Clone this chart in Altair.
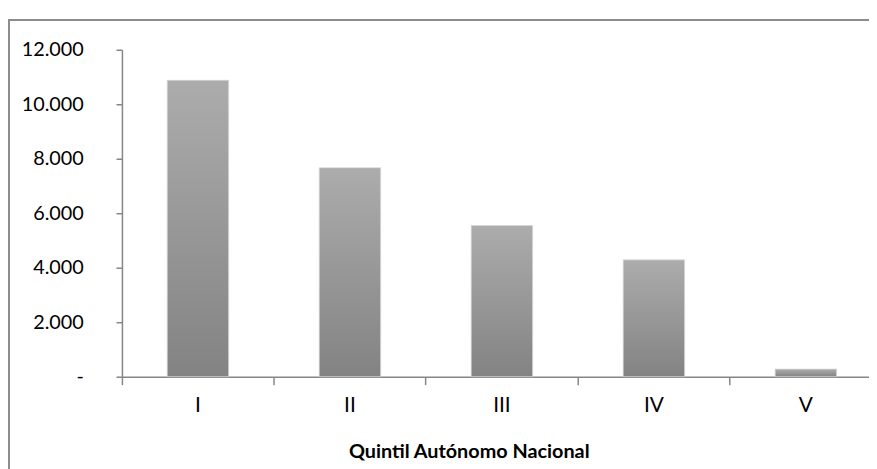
import altair as alt
import pandas as pd

categories = ["I", "II", "III", "IV", "V"]
values = [10880, 7670, 5550, 4290, 280]
x_title = "Quintil Autónomo Nacional"

df = pd.DataFrame({"quintil": categories, "valor": values})
FONT = "Lato"
GRAY = "#868686"

xscale = alt.Scale(domain=categories, range=[0, 767], paddingInner=0, paddingOuter=0)
yscale = alt.Scale(domain=[0, 12000], nice=False)

grad = alt.Gradient(
    gradient="linear", x1=0, y1=0, x2=0, y2=1,
    stops=[alt.GradientStop(color="#acacac", offset=0),
           alt.GradientStop(color="#838383", offset=1)],
)

bars = alt.Chart(df).mark_bar(
    color=grad, width=alt.RelativeBandSize(0.404),
    stroke="#d8d8d8", strokeWidth=1.2, strokeOpacity=0.6,
).encode(
    x=alt.X("quintil:N", sort=categories, scale=xscale,
            axis=alt.Axis(orient="bottom", title=x_title, labelAngle=0, ticks=False,
                          labelFont=FONT, labelFontSize=21, labelColor="#000",
                          labelPadding=18, labelBaseline="top",
                          domainColor=GRAY, domainWidth=1.5,
                          titleFont=FONT, titleFontSize=20, titleFontWeight="bold",
                          titleColor="#000", titleX=350, titleY=82,
                          titleAlign="center", titleBaseline="alphabetic")),
    y=alt.Y("valor:Q", scale=yscale,
            axis=alt.Axis(title=None, values=[0, 2000, 4000, 6000, 8000, 10000, 12000],
                          grid=False, tickSize=6, tickColor=GRAY, tickWidth=1.5,
                          domainColor=GRAY, domainWidth=1.5,
                          labelFont=FONT, labelFontSize=20, labelColor="#000",
                          labelPadding=33,
                          labelExpr="datum.value == 0 ? '-\u00a0\u00a0\u00a0' : replace(format(datum.value, ','), ',', '.')")),
)

ticks = alt.Chart(df).mark_point(opacity=0).encode(
    x=alt.X("quintil:N", sort=categories, scale=xscale,
            axis=alt.Axis(orient="bottom", title=None, labels=False, domain=False,
                          grid=False, bandPosition=0, ticks=True, tickSize=8,
                          tickColor=GRAY, tickWidth=1.5)),
)

frame = alt.Chart(df).mark_rect(
    filled=False, stroke="#8c8c8c", strokeWidth=2
).encode(
    x=alt.value(-114), x2=alt.value(900), y=alt.value(-30), y2=alt.value(600)
).transform_filter("datum.quintil == 'I'")

chart = alt.layer(frame, ticks, bars).resolve_axis(x="independent").properties(
    width=754, height=330,
    autosize=alt.AutoSizeParams(type="none"),
    padding={"left": 115, "top": 40, "right": 0, "bottom": 91},
    background="white",
).configure_view(strokeWidth=0, stroke="transparent").configure_axis(grid=False)

chart.save("out.html", embed_options={"renderer": "svg", "actions": False})
